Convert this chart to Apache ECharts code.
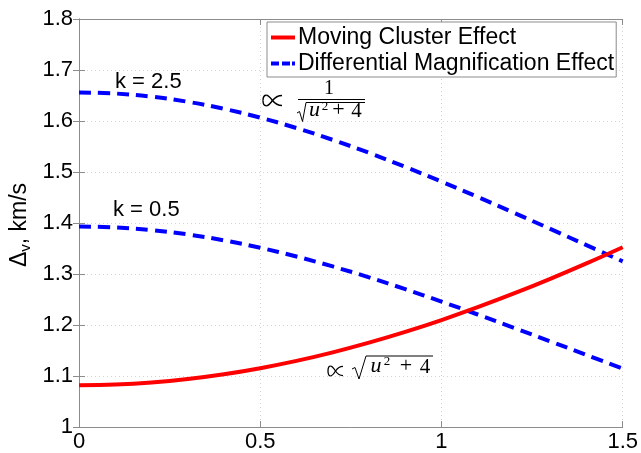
<!DOCTYPE html>
<html>
<head>
<meta charset="utf-8">
<script src="https://cdn.jsdelivr.net/npm/echarts@6/dist/echarts.min.js"></script>
<style>
html,body{margin:0;padding:0;background:#fff;}
#chart{width:641px;height:453px;}
</style>
</head>
<body>
<div id="chart"></div>
<script>
// Data
var uValues = [0, 0.1, 0.2, 0.3, 0.4, 0.5, 0.6, 0.7, 0.8, 0.9, 1.0, 1.1, 1.2, 1.3, 1.4, 1.5];
var movingCluster = [1.082, 1.0834, 1.0874, 1.0941, 1.1034, 1.1153, 1.1296, 1.1464, 1.1654, 1.1865, 1.2097, 1.2349, 1.2618, 1.2905, 1.3208, 1.3525];
var diffMagK25 = [1.656, 1.6539, 1.6478, 1.6377, 1.6239, 1.6066, 1.5862, 1.5630, 1.5376, 1.5101, 1.4812, 1.4510, 1.4200, 1.3885, 1.3566, 1.3248];
var diffMagK05 = [1.393, 1.3913, 1.3861, 1.3776, 1.3660, 1.3514, 1.3343, 1.3148, 1.2934, 1.2703, 1.2459, 1.2206, 1.1945, 1.1680, 1.1412, 1.1144];
var xTicks = [0, 0.5, 1, 1.5];
var yTicks = [1, 1.1, 1.2, 1.3, 1.4, 1.5, 1.6, 1.7, 1.8];
var seriesNames = ['Moving Cluster Effect', 'Differential Magnification Effect'];
var curveLabels = ['k = 2.5', 'k = 0.5'];

function pairs(xs, ys) { return xs.map(function (x, i) { return [x, ys[i]]; }); }

var SANS = '"Liberation Sans", Arial, Helvetica, sans-serif';
var SERIF = '"Liberation Serif", "DejaVu Serif", serif';
var axisGray = '#8c8c8c';

// "proportional to" sign drawn as cubic curves in a w x h box at (ox, oy)
function propSign(ox, oy, w, h, lw) {
  var segs = [
    [[1, 0.08], [0.74, 0.08], [0.6, 0.3], [0.5, 0.5]],
    [[0.5, 0.5], [0.4, 0.72], [0.3, 0.94], [0.17, 0.94]],
    [[0.17, 0.94], [0.05, 0.94], [0, 0.74], [0, 0.5]],
    [[0, 0.5], [0, 0.26], [0.05, 0.06], [0.17, 0.06]],
    [[0.17, 0.06], [0.3, 0.06], [0.4, 0.28], [0.5, 0.5]],
    [[0.5, 0.5], [0.6, 0.7], [0.74, 0.92], [1, 0.92]]
  ];
  return segs.map(function (s) {
    function X(p) { return ox + p[0] * w; }
    function Y(p) { return oy + p[1] * h; }
    return {
      type: 'bezierCurve', z: 10,
      shape: {x1: X(s[0]), y1: Y(s[0]), cpx1: X(s[1]), cpy1: Y(s[1]), cpx2: X(s[2]), cpy2: Y(s[2]), x2: X(s[3]), y2: Y(s[3])},
      style: {stroke: '#000', lineWidth: lw, fill: null}
    };
  });
}

var chart = echarts.init(document.getElementById('chart'), null, {renderer: 'canvas'});

var baseX = {
  type: 'value', min: xTicks[0], max: xTicks[xTicks.length - 1], interval: 0.5,
  axisLine: {show: true, lineStyle: {color: axisGray, width: 1}},
  axisTick: {show: true, inside: true, length: 6, lineStyle: {color: axisGray}},
  splitLine: {show: false}
};
var baseY = {
  type: 'value', min: yTicks[0], max: yTicks[yTicks.length - 1], interval: 0.1,
  axisLine: {show: true, lineStyle: {color: axisGray, width: 1}},
  axisTick: {show: true, inside: true, length: 6, lineStyle: {color: axisGray}},
  splitLine: {show: false}
};

var graphics = [
  // y axis name
  {
    type: 'text', x: 20, y: 225, rotation: Math.PI / 2, z: 10,
    style: {
      text: '{a|Δ}{b|v}{a|, km/s}', align: 'center', verticalAlign: 'middle',
      rich: {
        a: {fontFamily: SANS, fontSize: 23, fill: '#000', lineHeight: 26, verticalAlign: 'middle'},
        b: {fontFamily: SANS, fontSize: 15, fill: '#000', lineHeight: 26, verticalAlign: 'bottom', padding: [8, 0, 0, 0]}
      }
    }
  },
  // curve labels
  {type: 'text', x: 115, y: 82, z: 10, style: {text: curveLabels[0], fontFamily: SANS, fontSize: 22, fill: '#000', verticalAlign: 'middle'}},
  {type: 'text', x: 113, y: 210, z: 10, style: {text: curveLabels[1], fontFamily: SANS, fontSize: 22, fill: '#000', verticalAlign: 'middle'}},
  // upper formula: 1/sqrt(u^2+4)
  {type: 'text', x: 329, y: 89, z: 10, style: {text: '1', fontFamily: SERIF, fontSize: 20, fill: '#000', align: 'center', verticalAlign: 'middle'}},
  {type: 'line', z: 10, shape: {x1: 298, y1: 99.5, x2: 365, y2: 99.5}, style: {stroke: '#000', lineWidth: 1}},
  {type: 'polyline', z: 10, shape: {points: [[297, 113], [299.5, 111.5], [302.5, 121.5], [306, 102.5], [365, 102.5]]}, style: {stroke: '#000', lineWidth: 1, fill: null}},
  {type: 'text', x: 314.5, y: 121, z: 10, style: {text: 'u', fontFamily: SERIF, fontStyle: 'italic', fontSize: 22, fill: '#000', align: 'center', verticalAlign: 'bottom'}},
  {type: 'text', x: 325, y: 113, z: 10, style: {text: '2', fontFamily: SERIF, fontSize: 13, fill: '#000', align: 'center', verticalAlign: 'bottom'}},
  {type: 'text', x: 338.5, y: 121, z: 10, style: {text: '+', fontFamily: SERIF, fontSize: 22, fill: '#000', align: 'center', verticalAlign: 'bottom'}},
  {type: 'text', x: 356.5, y: 121.5, z: 10, style: {text: '4', fontFamily: SERIF, fontSize: 21, fill: '#000', align: 'center', verticalAlign: 'bottom'}},
  // lower formula: sqrt(u^2+4)
  {type: 'polyline', z: 10, shape: {points: [[352, 369], [355, 367.5], [359, 379], [366, 356], [433, 356]]}, style: {stroke: '#000', lineWidth: 1, fill: null}},
  {type: 'text', x: 376, y: 377, z: 10, style: {text: 'u', fontFamily: SERIF, fontStyle: 'italic', fontSize: 22, fill: '#000', align: 'center', verticalAlign: 'bottom'}},
  {type: 'text', x: 387, y: 368.5, z: 10, style: {text: '2', fontFamily: SERIF, fontSize: 13, fill: '#000', align: 'center', verticalAlign: 'bottom'}},
  {type: 'text', x: 406, y: 377, z: 10, style: {text: '+', fontFamily: SERIF, fontSize: 22, fill: '#000', align: 'center', verticalAlign: 'bottom'}},
  {type: 'text', x: 425, y: 377.5, z: 10, style: {text: '4', fontFamily: SERIF, fontSize: 21, fill: '#000', align: 'center', verticalAlign: 'bottom'}}
];
graphics = graphics.concat(propSign(263, 94.5, 19, 12, 1.4), propSign(328, 365.5, 15, 11, 1.3));

var option = {
  backgroundColor: '#ffffff',
  animation: false,
  grid: {left: 79, right: 18, top: 19, bottom: 23, containLabel: false},
  xAxis: [
    Object.assign({}, baseX, {
      position: 'bottom',
      axisLabel: {show: true, margin: 4, color: '#000', fontFamily: SANS, fontSize: 22,
        formatter: function (v) { return String(+v.toFixed(2)); }},
      splitLine: {show: true, lineStyle: {color: '#d4d4d4', type: [1, 3], width: 1}}
    }),
    Object.assign({}, baseX, {position: 'top', axisLabel: {show: false}})
  ],
  yAxis: [
    Object.assign({}, baseY, {
      position: 'left',
      axisLabel: {show: true, margin: 6, color: '#000', fontFamily: SANS, fontSize: 22,
        formatter: function (v) { return String(+v.toFixed(2)); }},
      splitLine: {show: true, lineStyle: {color: '#d4d4d4', type: [1, 3], width: 1}}
    }),
    Object.assign({}, baseY, {position: 'right', axisLabel: {show: false}})
  ],
  legend: {
    orient: 'vertical',
    left: 267, top: 22,
    padding: [4, 2, 2, 4],
    itemGap: 3,
    itemWidth: 24, itemHeight: 4,
    backgroundColor: '#ffffff',
    borderColor: '#8c8c8c', borderWidth: 1,
    textStyle: {fontFamily: SANS, fontSize: 23, color: '#000', padding: [0, 0, 0, -2]},
    data: [
      {name: seriesNames[0], icon: 'path://M0,0H24V4H0Z', itemStyle: {color: '#ff0000'}},
      {name: seriesNames[1], icon: 'path://M0,0H8V4H0Z M11,0H19V4H11Z M21,0H24V4H21Z', itemStyle: {color: '#0000ff'}}
    ]
  },
  series: [
    {
      name: seriesNames[0], type: 'line', data: pairs(uValues, movingCluster),
      xAxisIndex: 0, yAxisIndex: 0, smooth: 0.4, symbol: 'none', showSymbol: false,
      lineStyle: {color: '#ff0000', width: 4}, itemStyle: {color: '#ff0000'}, z: 3
    },
    {
      name: seriesNames[1], type: 'line', data: pairs(uValues, diffMagK25),
      xAxisIndex: 0, yAxisIndex: 0, smooth: 0.4, symbol: 'none', showSymbol: false,
      lineStyle: {color: '#0000ff', width: 4, type: [12, 7]}, itemStyle: {color: '#0000ff'}, z: 2
    },
    {
      name: seriesNames[1], type: 'line', data: pairs(uValues, diffMagK05),
      xAxisIndex: 0, yAxisIndex: 0, smooth: 0.4, symbol: 'none', showSymbol: false,
      lineStyle: {color: '#0000ff', width: 4, type: [12, 7]}, itemStyle: {color: '#0000ff'}, z: 2
    }
  ],
  graphic: graphics
};
chart.setOption(option);
</script>
</body>
</html>
